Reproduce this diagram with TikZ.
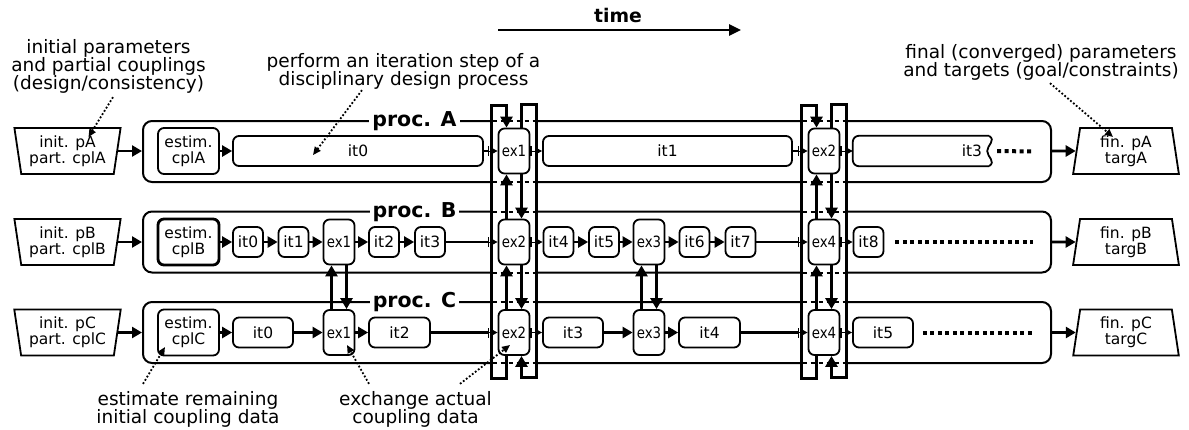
\documentclass[tikz,border=0pt]{standalone}
\usepackage{graphicx}
\usepackage{fontspec}
\setmainfont{DejaVu Sans}
\usetikzlibrary{arrows.meta, positioning, shapes.geometric, calc}

\newcommand{\boxfont}{\fontsize{15.5}{16}\selectfont}
\newcommand{\notefont}{\fontsize{18.5}{18}\selectfont}
\newcommand{\squeeze}[1]{\scalebox{0.86}[1]{#1}}

\begin{document}
\begin{tikzpicture}[x=1pt, y=-1pt,
  procbox/.style={draw, line width=2pt, rounded corners=9pt, minimum width=908pt, minimum height=61pt},
  proclabel/.style={fill=white, inner sep=3pt, font=\fontsize{20.5}{22}\selectfont\bfseries},
  stepbox/.style={draw, line width=1.8pt, rounded corners=6pt, minimum width=30pt, minimum height=30pt, inner sep=1pt, font=\boxfont},
  estbox/.style={stepbox, minimum width=61pt, minimum height=46pt, align=center},
  xbox/.style={stepbox, fill=white, minimum width=31pt, minimum height=45pt, inner sep=0pt},
  inbox/.style={draw, line width=1.8pt, trapezium, trapezium stretches=true, trapezium left angle=100, trapezium right angle=100, minimum width=107pt, minimum height=46pt, inner sep=1pt, align=center, font=\boxfont},
  outbox/.style={inbox, trapezium left angle=83, trapezium right angle=83, minimum width=106pt},
  note/.style={align=center, inner sep=0pt, font=\notefont},
  flow/.style={-{Triangle[length=10pt, width=11pt]}, line width=2.6pt},
  plain/.style={line width=2.6pt},
  relay/.style={{Bar[width=10pt, line width=1.3pt]}-{Triangle[length=5pt, width=5pt]}, line width=1pt},
  swap/.style={-{Triangle[length=11pt, width=12pt]}, line width=3pt},
  hint/.style={-{Triangle[length=8pt, width=7pt]}, dotted, line width=1.8pt},
  trail/.style={line width=4pt, dash pattern=on 4pt off 3.5pt},
  cross/.style={line width=2pt, dash pattern=on 4pt off 4pt}
]
  \path[use as bounding box, fill=white] (0,0) rectangle (1189,429);

  % Time axis
  \node[font=\fontsize{18.8}{20}\selectfont\bfseries] (tlab) at (618,15) {time};
  \coordinate (t0) at (498,30);
  \coordinate (t1) at (741,30);
  \draw[-{Triangle[length=12pt, width=11pt]}, line width=2.6pt] (t0) -- (t1);

  % Processes
  \node[procbox] (procA) at (597,151.5) {};
  \node[procbox] (procB) at (597,242) {};
  \node[procbox] (procC) at (597,332.5) {};
  \node[proclabel] (labA) at (414.5,121.5) {proc. A};
  \node[proclabel] (labB) at (414.5,212) {proc. B};
  \node[proclabel] (labC) at (414.5,302.5) {proc. C};

  % Inputs and outputs
  \node[inbox] (inA) at (67.5,151) {init. pA\\part. cplA};
  \node[inbox] (inB) at (67.5,242) {init. pB\\part. cplB};
  \node[inbox] (inC) at (67.5,332.5) {init. pC\\part. cplC};
  \node[outbox] (outA) at (1126,151) {fin. pA\\targA};
  \node[outbox] (outB) at (1126,242) {fin. pB\\targB};
  \node[outbox] (outC) at (1126,332.5) {fin. pC\\targC};

  % proc. A
  \node[estbox] (estA) at (188.5,151) {estim.\\cplA};
  \node[stepbox, minimum width=250pt] (A0) at (358,151) {it0};
  \node[xbox] (xA1) at (514,151) {\squeeze{ex1}};
  \node[stepbox, minimum width=249pt] (A1) at (667.5,151) {it1};
  \node[xbox] (xA2) at (824,151) {\squeeze{ex2}};
  \node[font=\boxfont, minimum height=30pt, text width=122pt, inner sep=7pt, align=right] (A3) at (921,151) {it3};
  \draw[line width=1.8pt, rounded corners=6pt] (A3.north east) -- (A3.north west) -- (A3.south west) -- (A3.south east);
  \draw[line width=1.8pt] (A3.north east) .. controls ($(A3.north east)+(7,5)$) and ($(A3.east)+(-2,-6)$) .. ($(A3.east)+(-2,0)$) .. controls ($(A3.east)+(-2,6)$) and ($(A3.south east)+(7,-5)$) .. (A3.south east);

  % proc. B
  \node[estbox, line width=2.8pt] (estB) at (188.5,242) {estim.\\cplB};
  \node[stepbox] (B0) at (248,242) {it0};
  \node[stepbox] (B1) at (293.5,242) {it1};
  \node[xbox] (xB1) at (339,242) {\squeeze{ex1}};
  \node[stepbox] (B2) at (384,242) {it2};
  \node[stepbox] (B3) at (430,242) {it3};
  \node[xbox] (xB2) at (514,242) {\squeeze{ex2}};
  \node[stepbox] (B4) at (558.5,242) {it4};
  \node[stepbox] (B5) at (604,242) {it5};
  \node[xbox] (xB3) at (649,242) {\squeeze{ex3}};
  \node[stepbox] (B6) at (694.5,242) {it6};
  \node[stepbox] (B7) at (740.5,242) {it7};
  \node[xbox] (xB4) at (824,242) {\squeeze{ex4}};
  \node[stepbox] (B8) at (868.5,242) {it8};

  % proc. C
  \node[estbox] (estC) at (188.5,332.5) {estim.\\cplC};
  \node[stepbox, minimum width=60pt] (C0) at (263,332.5) {it0};
  \node[xbox] (xC1) at (339,332.5) {\squeeze{ex1}};
  \node[stepbox, minimum width=61pt] (C2) at (399.5,332.5) {it2};
  \node[xbox] (xC2) at (514,332.5) {\squeeze{ex2}};
  \node[stepbox, minimum width=60pt] (C3) at (573,332.5) {it3};
  \node[xbox] (xC3) at (649,332.5) {\squeeze{ex3}};
  \node[stepbox, minimum width=61pt] (C4) at (709.5,332.5) {it4};
  \node[xbox] (xC4) at (824,332.5) {\squeeze{ex4}};
  \node[stepbox, minimum width=60pt] (C5) at (883,332.5) {it5};

  % Flows
  \foreach \r in {A,B,C} {
    \draw[flow] (in\r.east) -- (in\r.east -| proc\r.west);
    \draw[flow] (out\r -| proc\r.east) -- (out\r.west);
    \draw[flow] (est\r) -- (\r0);
  }
  \foreach \a/\b in {B0/B1, B1/xB1, xB1/B2, B2/B3, B4/B5, B5/xB3, xB3/B6, B6/B7, C0/xC1, xC1/C2, C3/xC3, xC3/C4}
    \draw[flow] (\a) -- (\b);
  \foreach \a/\x/\b in {A0/xA1/A1, A1/xA2/A3, B3/xB2/B4, B7/xB4/B8, C2/xC2/C3, C4/xC4/C5} {
    \draw[plain] (\a) -- ([xshift=-10]\x.west);
    \draw[relay] ([xshift=-10]\x.west) -- (\x);
    \draw[relay] (\x) -- (\b);
  }
  \draw[trail] ([xshift=8]A3.east) -- ([xshift=-19]procA.east);
  \draw[trail] ([xshift=11]B8.east) -- ([xshift=-19]procB.east);
  \draw[trail] ([xshift=9]C5.east) -- ([xshift=-19]procC.east);

  % Border crossings
  \foreach \cx in {514,824}
    \foreach \by in {121,182,211.5,272.5,302,363} {
      \draw[white, line width=3pt] (\cx-21.5,\by) -- (\cx+20.5,\by);
      \draw[cross] (\cx-21.5,\by) -- (\cx+20.5,\by);
    }

  % Exchanges
  \foreach \k in {1,3} {
    \draw[swap] ([xshift=-7.5]xC\k.north) -- ([xshift=-7.5]xB\k.south);
    \draw[swap] ([xshift=7.5]xB\k.south) -- ([xshift=7.5]xC\k.north);
  }
  \foreach \k/\j in {2/1,4/2} {
    \draw[swap] ([xshift=-7.5]xB\k.north) -- ([xshift=-7.5]xA\j.south);
    \draw[swap] ([xshift=7.5]xA\j.south) -- ([xshift=7.5]xB\k.north);
    \draw[swap] ([xshift=-7.5]xC\k.north) -- ([xshift=-7.5]xB\k.south);
    \draw[swap] ([xshift=7.5]xB\k.south) -- ([xshift=7.5]xC\k.north);
    \draw[swap] ([xshift=-7.5]xC\k.south) -- ++(0,23) -- ++(-15.5,0) -- ++(0,-273) -- ++(15.5,0) -- ([xshift=-7.5]xA\j.north);
    \draw[swap] ([xshift=7.5]xA\j.north) -- ++(0,-23.5) -- ++(14.5,0) -- ++(0,273) -- ++(-14.5,0) -- ([xshift=7.5]xC\k.south);
  }

  % Annotations
  \node[note] (nInit) at (108.5,66) {initial parameters\\and partial couplings\\(design/consistency)};
  \node[note] (nStep) at (403.5,71) {perform an iteration step of a\\disciplinary design process};
  \node[note] (nFin) at (1041,62) {final (converged) parameters\\and targets (goal/constraints)};
  \node[note] (nEst) at (188,409) {estimate remaining\\initial coupling data};
  \node[note] (nExc) at (415.5,409) {exchange actual\\coupling data};

  \draw[hint] ([xshift=4.5, yshift=-4]nInit.south) -- ($(inA)+(21,-14)$);
  \draw[hint] ([xshift=-41.5, yshift=-1]nStep.south) -- ($(A0)+(-45,4)$);
  \draw[hint] ([xshift=9, yshift=-3]nFin.south) -- ($(outA)+(-13,-14)$);
  \draw[hint] ([xshift=-45, yshift=7]nEst.north) -- ($(estC)+(-23.5,14.5)$);
  \draw[hint] ([xshift=-46.5, yshift=7]nExc.north) -- ($(xC1)+(8,12.5)$);
  \draw[hint] ([xshift=44.5, yshift=7]nExc.north) -- ($(xC2)+(-4,12.5)$);
\end{tikzpicture}
\end{document}
